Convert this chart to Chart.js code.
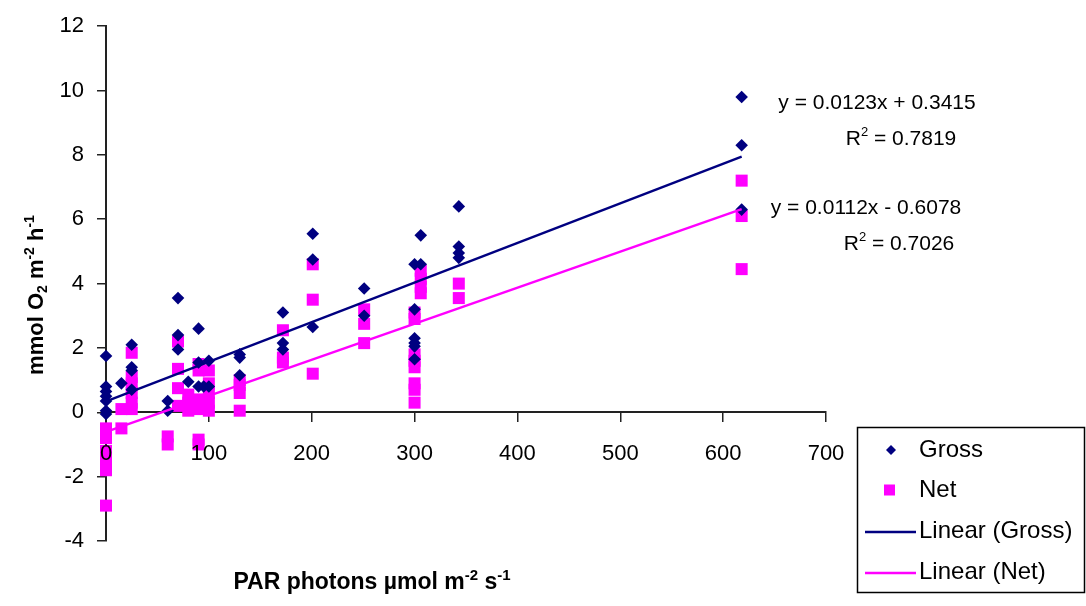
<!DOCTYPE html>
<html><head><meta charset="utf-8">
<script src="https://cdn.jsdelivr.net/npm/chart.js@4"></script>
<style>html,body{margin:0;padding:0;background:#fff}#wrap{width:1086px;height:606px;position:relative}</style>
</head><body><div id="wrap"><canvas id="c" width="1086" height="606"></canvas></div>
<script>
// ---- data ----
const grossPAR = [0,0,0,0,0,0,0, 15, 25,25,25,25, 60,60, 70,70,70, 80, 90,90,90, 95, 100,100, 130,130,130, 172,172,172, 201,201,201, 251,251, 300,300,300,300,300,300, 306,306, 343,343,343,343, 618,618,618];
const grossO2  = [1.75,0.8,0.65,0.5,0.35,0.05,-0.05, 0.9, 2.1,1.4,1.3,0.7, 0.35,0.05, 3.55,2.4,1.95, 0.95, 2.6,1.55,0.8, 0.8, 1.6,0.8, 1.8,1.7,1.15, 3.1,2.15,1.95, 5.55,4.75,2.65, 3.85,3.0, 4.6,3.2,2.3,2.15,2.05,1.65, 5.5,4.6, 6.4,5.15,4.95,4.8, 9.8,8.3,6.3];
const netPAR   = [0,0,0,0,0,0,0, 15,15, 25,25,25,25,25,25, 60,60, 70,70,70,70, 80,80,80, 90,90,90,90,90,90, 100,100,100,100,100, 130,130,130,130, 172,172,172, 201,201,201, 251,251,251, 300,300,300,300,300,300,300,300, 306,306,306,306, 343,343, 618,618,618];
const netO2    = [-0.5,-0.8,-1.2,-1.45,-1.65,-1.8,-2.9, 0.1,-0.5, 1.85,1.1,0.9,0.6,0.3,0.1, -0.75,-1.0, 2.2,1.35,0.75,0.2, 0.55,0.3,0.05, 1.5,1.3,0.4,0.1,-0.85,-1.0, 1.3,0.9,0.6,0.3,0.05, 1.0,0.85,0.6,0.05, 2.55,1.7,1.55, 4.6,3.5,1.2, 3.2,2.75,2.15, 3.1,2.9,1.8,1.6,1.4,0.9,0.7,0.3, 4.4,4.15,3.9,3.7, 4.0,3.55, 7.2,6.1,4.45];
// linear trendline fits as printed on chart: [slope, intercept, R2]
const grossFit = [0.0123, 0.3415, 0.7819];
const netFit   = [0.0112, -0.6078, 0.7026];
const trendRange = [0, 618];
const xTicks = [0,100,200,300,400,500,600,700];
const yTicks = [-4,-2,0,2,4,6,8,10,12];
const seriesLabels = ['Gross','Net','Linear (Gross)','Linear (Net)'];

const NAVY = '#000080', MAG = '#FF00FF';
const FONT = '"Liberation Sans", Arial, sans-serif';
const pts = (xs, ys) => xs.map((x,i)=>({x, y: ys[i]}));
const fitLine = f => trendRange.map(x => ({x, y: f[0]*x + f[1]}));

function drawRich(ctx, parts, x, y, size, weight) {
  // parts: [text, kind] kind: 0 normal, 1 sup, -1 sub ; centered at x, middle at y
  const small = Math.round(size*0.64);
  let total = 0;
  const widths = parts.map(([t,k]) => {
    ctx.font = weight + ' ' + (k ? small : size) + 'px ' + FONT;
    const w = ctx.measureText(t).width; total += w; return w;
  });
  let cx = x - total/2;
  ctx.textBaseline = 'alphabetic'; ctx.textAlign = 'left';
  const base = y + size*0.36;
  parts.forEach(([t,k], i) => {
    ctx.font = weight + ' ' + (k ? small : size) + 'px ' + FONT;
    const dy = k === 1 ? -size*0.42 : (k === -1 ? size*0.2 : 0);
    ctx.fillText(t, cx, base + dy);
    cx += widths[i];
  });
}

const overlay = {
  id: 'overlay',
  afterDraw(chart) {
    const ctx = chart.ctx;
    ctx.save();
    ctx.fillStyle = '#000';
    // y-axis title
    ctx.save();
    ctx.translate(35, 295);
    ctx.rotate(-Math.PI/2);
    drawRich(ctx, [['mmol O',0],['2',-1],[' m',0],['-2',1],[' h',0],['-1',1]], 0, 0, 22, 'bold');
    ctx.restore();
    // x-axis title
    drawRich(ctx, [['PAR photons \u00b5mol m',0],['-2',1],[' s',0],['-1',1]], 372, 581, 23, 'bold');

    // trendline equations
    const fmt = f => 'y = ' + f[0].toFixed(4) + 'x ' + (f[1] < 0 ? '- ' : '+ ') + Math.abs(f[1]).toFixed(4);
    ctx.font = '21px ' + FONT;
    ctx.textAlign = 'center'; ctx.textBaseline = 'middle';
    ctx.fillText(fmt(grossFit), 877, 103);
    drawRich(ctx, [['R',0],['2',1],[' = ' + grossFit[2].toFixed(4),0]], 901, 137, 21, 'normal');
    ctx.font = '21px ' + FONT;
    ctx.textAlign = 'center'; ctx.textBaseline = 'middle';
    ctx.fillText(fmt(netFit), 866, 208);
    drawRich(ctx, [['R',0],['2',1],[' = ' + netFit[2].toFixed(4),0]], 899, 242, 21, 'normal');

    // legend
    ctx.lineWidth = 1.5; ctx.strokeStyle = '#000';
    ctx.strokeRect(857.5, 427.5, 227, 165);
    ctx.font = '24px ' + FONT;
    ctx.textAlign = 'left'; ctx.textBaseline = 'middle';
    const rows = [450, 490, 531, 572];
    chart.data.datasets.forEach((ds, i) => {
      const y = rows[i];
      ctx.fillStyle = ds.borderColor;
      if (ds.pointStyle === 'rectRot') {
        ctx.beginPath(); ctx.moveTo(891, y-5); ctx.lineTo(896, y); ctx.lineTo(891, y+5); ctx.lineTo(886, y); ctx.closePath(); ctx.fill();
      } else if (ds.pointStyle === 'rect' && !ds.showLine) {
        ctx.fillRect(884, y-5.5, 11, 11);
      } else {
        ctx.strokeStyle = ds.borderColor; ctx.lineWidth = 2.5;
        ctx.beginPath(); ctx.moveTo(865, y+1); ctx.lineTo(916, y+1); ctx.stroke();
      }
      ctx.fillStyle = '#000';
      ctx.fillText(ds.label, 919, y);
    });
    ctx.restore();
  }
};

const axisCommon = {
  grid: { drawOnChartArea: false, drawTicks: true, tickLength: 9, color: '#222', lineWidth: 1.5 },
  border: { display: true, color: '#222', width: 2 },
};

new Chart(document.getElementById('c'), {
  type: 'scatter',
  data: {
    datasets: [
      { label: seriesLabels[0], data: pts(grossPAR, grossO2), pointStyle: 'rectRot', pointRadius: 6.3,
        backgroundColor: NAVY, borderColor: NAVY, borderWidth: 0, order: 2, clip: false },
      { label: seriesLabels[1], data: pts(netPAR, netO2), pointStyle: 'rect', pointRadius: 8.5,
        backgroundColor: MAG, borderColor: MAG, borderWidth: 0, order: 3, clip: false },
      { label: seriesLabels[2], type: 'line', data: fitLine(grossFit), borderColor: NAVY, borderWidth: 2.4,
        pointRadius: 0, showLine: true, fill: false, order: 1, clip: false },
      { label: seriesLabels[3], type: 'line', data: fitLine(netFit), borderColor: MAG, borderWidth: 2.4,
        pointRadius: 0, showLine: true, fill: false, order: 1, clip: false }
    ]
  },
  options: {
    responsive: false, animation: false, events: [],
    layout: { padding: { left: 0, top: 23, right: 260, bottom: 65 } },
    plugins: { legend: { display: false }, tooltip: { enabled: false } },
    scales: {
      x: Object.assign({}, axisCommon, {
        type: 'linear', min: xTicks[0], max: xTicks[xTicks.length-1], position: { y: 0 },
        afterBuildTicks: s => { s.ticks = xTicks.map(v => ({value: v})); },
        ticks: { z: 1, font: { size: 22, family: FONT }, color: '#000', padding: 19, maxRotation: 0, autoSkip: false }
      }),
      y: Object.assign({}, axisCommon, {
        type: 'linear', min: yTicks[0], max: yTicks[yTicks.length-1],
        afterBuildTicks: s => { s.ticks = yTicks.map(v => ({value: v})); },
        afterFit: s => { s.width = 106; },
        ticks: { font: { size: 22, family: FONT }, color: '#000', padding: 13 }
      })
    }
  },
  plugins: [overlay]
});
</script></body></html>
